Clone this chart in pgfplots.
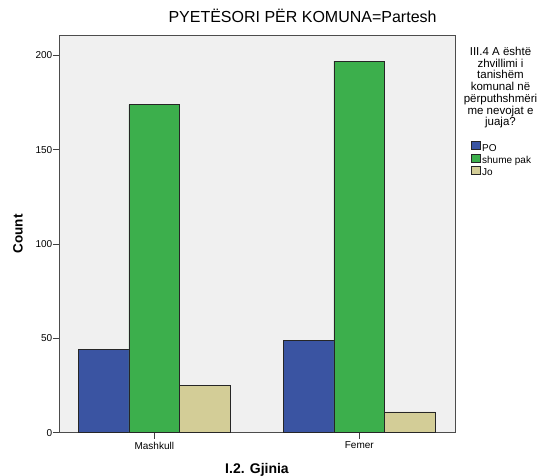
\documentclass[border=0pt]{standalone}
\usepackage{pgfplots}
\pgfplotsset{compat=1.18}
\usepackage{fontspec}
\setmainfont{Liberation Sans}
\definecolor{cblue}{RGB}{58,84,162}
\definecolor{cgreen}{RGB}{60,175,76}
\definecolor{ctan}{RGB}{211,205,151}
\definecolor{bg}{RGB}{240,240,240}
\begin{document}
\begin{tikzpicture}[x=1pt,y=1pt]
\useasboundingbox (0,0) rectangle (541,476);
\begin{axis}[
  at={(59pt,43.3pt)}, anchor=south west,
  scale only axis, width=396pt, height=397.7pt,
  ybar=0pt, bar width=0.247,
  xmin=-0.465, xmax=1.467, ymin=0, ymax=210.9,
  axis background/.style={fill=bg},
  axis line style={black!70, line width=0.7pt},
  xtick={0,1}, xticklabels={Mashkull,Femer},
  ytick={0,50,100,150,200},
  xtick pos=bottom, ytick pos=left,
  tick align=outside, major tick length=6pt,
  tick style={black!75, line width=0.7pt},
  /pgf/number format/assume math mode=true,
  ticklabel style={font=\fontsize{10}{12}\selectfont, inner sep=1pt},
  yticklabel style={inner sep=0.5pt},
  xticklabel style={yshift=-2pt},
  title={PYETËSORI PËR KOMUNA=Partesh},
  title style={at={(axis description cs:0.615,1.0169)}, anchor=base, font=\fontsize{16}{18}\selectfont},
  xlabel={I.2. Gjinia},
  xlabel style={at={(axis description cs:0.5,-0.1038)}, anchor=base, font=\fontsize{14}{16}\selectfont\bfseries},
  ylabel={Count},
  ylabel style={at={(axis description cs:-0.0917,0.5)}, anchor=base, rotate=0, font=\fontsize{13.5}{16}\selectfont\bfseries},
  legend style={at={(rel axis cs:1.04,0.733)}, anchor=north west, draw=none, fill=none,
    inner sep=0pt, row sep=-1pt,
    nodes={font=\fontsize{10}{12}\selectfont, inner ysep=1pt, inner xsep=1.5pt, text height=7pt, text depth=2pt}},
  legend cell align=left,
  legend image code/.code={\draw[#1, draw=black!85, line width=0.6pt] (0pt,-0.6pt) rectangle (9pt,7.4pt);},
  every axis plot/.append style={draw=black!85, line width=0.8pt},
]
\addplot[fill=cblue] coordinates {(0,44) (1,49)};
\addplot[fill=cgreen] coordinates {(0,174) (1,197)};
\addplot[fill=ctan] coordinates {(0,25) (1,11)};
\legend{PO,shume pak,Jo}
\end{axis}
\node[anchor=north, align=center, font=\fontsize{11.5}{11.7}\selectfont, inner sep=0pt] at (500.5,429)
  {III.4 A është\\zhvillimi i\\tanishëm\\komunal në\\përputhshmëri\\me nevojat e\\juaja?};
\end{tikzpicture}
\end{document}
